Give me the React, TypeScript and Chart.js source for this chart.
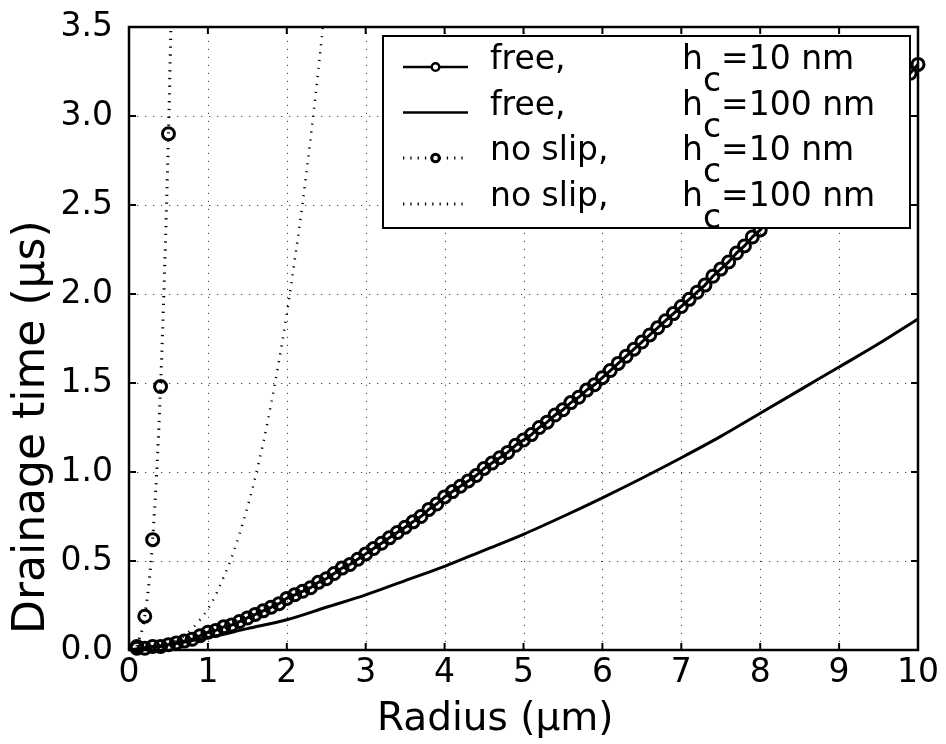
import React, { useEffect, useRef } from "react";
import { Chart, registerables } from "chart.js";

Chart.register(...registerables);

const FONT = "'DejaVu Sans', sans-serif";

const xTicks = [0, 1, 2, 3, 4, 5, 6, 7, 8, 9, 10];
const yTicks = [0, 0.5, 1, 1.5, 2, 2.5, 3, 3.5];

const xTitle = "Radius (\u00b5m)";
const yTitle = "Drainage time (\u00b5s)";

// free surface, h_c = 10 nm (markers every 0.1 µm)
const freeR10 = [
  0.1, 0.2, 0.3, 0.4, 0.5, 0.6, 0.7, 0.8, 0.9, 1.0,
  1.1, 1.2, 1.3, 1.4, 1.5, 1.6, 1.7, 1.8, 1.9, 2.0,
  2.1, 2.2, 2.3, 2.4, 2.5, 2.6, 2.7, 2.8, 2.9, 3.0,
  3.1, 3.2, 3.3, 3.4, 3.5, 3.6, 3.7, 3.8, 3.9, 4.0,
  4.1, 4.2, 4.3, 4.4, 4.5, 4.6, 4.7, 4.8, 4.9, 5.0,
  5.1, 5.2, 5.3, 5.4, 5.5, 5.6, 5.7, 5.8, 5.9, 6.0,
  6.1, 6.2, 6.3, 6.4, 6.5, 6.6, 6.7, 6.8, 6.9, 7.0,
  7.1, 7.2, 7.3, 7.4, 7.5, 7.6, 7.7, 7.8, 7.9, 8.0,
  8.1, 8.2, 8.3, 8.4, 8.5, 8.6, 8.7, 8.8, 8.9, 9.0,
  9.1, 9.2, 9.3, 9.4, 9.5, 9.6, 9.7, 9.8, 9.9, 10.0,
];
const freeT10 = [
  0.01, 0.01, 0.02, 0.02, 0.03, 0.04, 0.05, 0.06, 0.08, 0.10,
  0.11, 0.13, 0.14, 0.16, 0.18, 0.20, 0.22, 0.24, 0.26, 0.29,
  0.31, 0.33, 0.35, 0.38, 0.40, 0.43, 0.46, 0.48, 0.51, 0.54,
  0.57, 0.60, 0.63, 0.66, 0.69, 0.72, 0.75, 0.79, 0.82, 0.86,
  0.89, 0.92, 0.95, 0.98, 1.02, 1.05, 1.08, 1.11, 1.15, 1.18,
  1.21, 1.25, 1.28, 1.32, 1.35, 1.39, 1.42, 1.46, 1.49, 1.53,
  1.57, 1.61, 1.65, 1.69, 1.73, 1.77, 1.81, 1.85, 1.89, 1.93,
  1.97, 2.01, 2.05, 2.10, 2.14, 2.18, 2.23, 2.27, 2.32, 2.36,
  2.41, 2.45, 2.50, 2.54, 2.59, 2.63, 2.68, 2.73, 2.77, 2.82,
  2.87, 2.91, 2.96, 3.01, 3.05, 3.10, 3.15, 3.19, 3.24, 3.29,
];

// free surface, h_c = 100 nm
const freeR100 = [0, 0.5, 1, 1.5, 2, 2.5, 3, 3.5, 4, 4.5, 5, 5.5, 6, 6.5, 7, 7.5, 8, 8.5, 9, 9.5, 10];
const freeT100 = [0, 0.03, 0.07, 0.12, 0.17, 0.24, 0.31, 0.39, 0.47, 0.56, 0.65, 0.75, 0.855, 0.965, 1.08, 1.2, 1.33, 1.46, 1.59, 1.72, 1.86];

// no slip, h_c = 10 nm
const noSlipR10 = [0.1, 0.2, 0.3, 0.4, 0.5, 0.6];
const noSlipT10 = [0.02, 0.19, 0.62, 1.48, 2.9, 5.0];

// no slip, h_c = 100 nm
const noSlipR100 = [0, 0.1, 0.2, 0.3, 0.4, 0.5, 0.6, 0.7, 0.8, 0.9, 1.0, 1.1, 1.2, 1.3, 1.4, 1.5, 1.6, 1.7, 1.8, 1.9, 2.0, 2.1, 2.2, 2.3, 2.4, 2.5, 2.6];
const noSlipT100 = [0, 0, 0, 0.01, 0.02, 0.03, 0.05, 0.08, 0.12, 0.17, 0.23, 0.31, 0.41, 0.52, 0.65, 0.8, 0.97, 1.16, 1.38, 1.62, 1.89, 2.19, 2.51, 2.87, 3.26, 3.69, 4.15];

const legendNames = ["free,", "free,", "no slip,", "no slip,"];
const legendValues = ["=10 nm", "=100 nm", "=10 nm", "=100 nm"];

const toPts = (xs: number[], ys: number[]) => xs.map((x, i) => ({ x, y: ys[i] }));

const framePlugin = {
  id: "frameAndLegend",
  beforeDatasetsDraw(chart: any) {
    const { ctx, chartArea: a, scales } = chart;
    ctx.save();
    ctx.strokeStyle = "rgba(0,0,0,0.75)";
    ctx.lineWidth = 1;
    ctx.setLineDash([1.2, 6.8]);
    xTicks.forEach((v) => {
      const px = Math.round(scales.x.getPixelForValue(v)) + 0.5;
      if (px <= a.left + 2 || px >= a.right - 2) return;
      ctx.beginPath();
      ctx.moveTo(px, a.bottom);
      ctx.lineTo(px, a.top);
      ctx.stroke();
    });
    yTicks.forEach((v) => {
      const py = Math.round(scales.y.getPixelForValue(v)) + 0.5;
      if (py <= a.top + 2 || py >= a.bottom - 2) return;
      ctx.beginPath();
      ctx.moveTo(a.left, py);
      ctx.lineTo(a.right, py);
      ctx.stroke();
    });
    ctx.restore();
  },
  afterDatasetsDraw(chart: any) {
    const { ctx, chartArea: a, scales } = chart;
    ctx.save();
    ctx.setLineDash([]);
    ctx.strokeStyle = "#000";
    // inward ticks
    ctx.lineWidth = 2;
    const tl = 7;
    xTicks.forEach((v) => {
      const px = scales.x.getPixelForValue(v);
      ctx.beginPath();
      ctx.moveTo(px, a.bottom);
      ctx.lineTo(px, a.bottom - tl);
      ctx.moveTo(px, a.top);
      ctx.lineTo(px, a.top + tl);
      ctx.stroke();
    });
    yTicks.forEach((v) => {
      const py = scales.y.getPixelForValue(v);
      ctx.beginPath();
      ctx.moveTo(a.left, py);
      ctx.lineTo(a.left + tl, py);
      ctx.moveTo(a.right, py);
      ctx.lineTo(a.right - tl, py);
      ctx.stroke();
    });
    // frame
    ctx.lineWidth = 2.5;
    ctx.strokeRect(a.left, a.top, a.right - a.left, a.bottom - a.top);

    // legend
    const lx = 383, ly = 36, lw = 527, lh = 192;
    ctx.fillStyle = "#fff";
    ctx.fillRect(lx, ly, lw, lh);
    ctx.lineWidth = 2;
    ctx.strokeRect(lx, ly, lw, lh);
    const rows = [67, 112.5, 158, 204];
    const s0 = 403, s1 = 468, sm = 435.5;
    rows.forEach((ry, i) => {
      ctx.save();
      ctx.strokeStyle = "#000";
      if (i < 2) {
        ctx.setLineDash([]);
        ctx.lineWidth = 2.5;
      } else {
        ctx.setLineDash([1.3, 6]);
        ctx.lineWidth = 3;
      }
      ctx.beginPath();
      ctx.moveTo(s0, ry);
      ctx.lineTo(s1, ry);
      ctx.stroke();
      if (i === 0 || i === 2) {
        ctx.setLineDash([]);
        ctx.fillStyle = "#fff";
        ctx.lineWidth = i === 2 ? 3 : 2.5;
        ctx.beginPath();
        ctx.arc(sm, ry, 3.8, 0, Math.PI * 2);
        ctx.fill();
        ctx.stroke();
      }
      ctx.restore();

      ctx.fillStyle = "#000";
      ctx.font = `33px ${FONT}`;
      ctx.textAlign = "left";
      ctx.textBaseline = "alphabetic";
      const by = ry + 2;
      ctx.fillText(legendNames[i], 490, by);
      const hx = 682;
      ctx.fillText("h", hx, by);
      const wh = ctx.measureText("h").width;
      ctx.fillText("c", hx + wh, by + 22);
      const wc = ctx.measureText("c").width;
      ctx.fillText(legendValues[i], hx + wh + wc, by);
    });

    // axis titles
    ctx.fillStyle = "#000";
    ctx.textBaseline = "alphabetic";
    ctx.textAlign = "left";
    ctx.font = `39px ${FONT}`;
    ctx.fillText(xTitle, 377, 730);
    ctx.save();
    ctx.font = `44px ${FONT}`;
    ctx.translate(44, 634);
    ctx.rotate(-Math.PI / 2);
    ctx.fillText(yTitle, 0, 0);
    ctx.restore();
    ctx.restore();
  },
};

export default function App() {
  const ref = useRef<HTMLCanvasElement | null>(null);
  useEffect(() => {
    document.body.style.margin = "0";
    const canvas = ref.current;
    if (!canvas) return;
    const chart = new Chart(canvas, {
      type: "line",
      data: {
        datasets: [
          {
            label: "free, hc=10 nm",
            data: toPts(freeR10, freeT10),
            borderColor: "#000",
            borderWidth: 3,
            pointRadius: 6,
            pointBorderWidth: 3,
            pointBorderColor: "#000",
            pointBackgroundColor: "rgba(0,0,0,0)",
            clip: { left: 12, right: 12, top: 0, bottom: 12 },
          },
          {
            label: "free, hc=100 nm",
            data: toPts(freeR100, freeT100),
            borderColor: "#000",
            borderWidth: 3,
            pointRadius: 0,
            cubicInterpolationMode: "monotone",
          },
          {
            label: "no slip, hc=10 nm",
            data: toPts(noSlipR10, noSlipT10),
            borderColor: "#000",
            borderWidth: 3,
            borderDash: [1.3, 6.5],
            pointRadius: 6,
            pointBorderWidth: 3,
            pointBorderColor: "#000",
            pointBackgroundColor: "rgba(0,0,0,0)",
            cubicInterpolationMode: "monotone",
            clip: { left: 12, right: 12, top: 0, bottom: 12 },
          },
          {
            label: "no slip, hc=100 nm",
            data: toPts(noSlipR100, noSlipT100),
            borderColor: "#000",
            borderWidth: 2.5,
            borderDash: [1.2, 6.8],
            pointRadius: 0,
            cubicInterpolationMode: "monotone",
            clip: { left: 0, right: 0, top: 0, bottom: 0 },
          },
        ],
      },
      options: {
        animation: false,
        responsive: false,
        devicePixelRatio: 1,
        layout: { padding: { top: 27, right: 28, left: 0, bottom: 0 } },
        plugins: { legend: { display: false }, tooltip: { enabled: false } },
        scales: {
          x: {
            type: "linear",
            min: 0,
            max: 10,
            afterBuildTicks: (s: any) => {
              s.ticks = xTicks.map((v) => ({ value: v }));
            },
            afterFit: (s: any) => {
              s.height = 94;
              s.paddingLeft = 0;
              s.paddingRight = 0;
            },
            grid: { display: false, drawTicks: false },
            border: { display: false },
            ticks: {
              color: "#000",
              font: { family: FONT, size: 33 },
              padding: 4,
              maxRotation: 0,
              autoSkip: false,
              callback: (v: any) => String(v),
            },
          },
          y: {
            type: "linear",
            min: 0,
            max: 3.5,
            afterBuildTicks: (s: any) => {
              s.ticks = yTicks.map((v) => ({ value: v }));
            },
            afterFit: (s: any) => {
              s.width = 129;
              s.paddingTop = 0;
              s.paddingBottom = 0;
            },
            grid: { display: false, drawTicks: false },
            border: { display: false },
            ticks: {
              color: "#000",
              font: { family: FONT, size: 33 },
              padding: 16,
              autoSkip: false,
              callback: (v: any) => Number(v).toFixed(1),
            },
          },
        },
      },
      plugins: [framePlugin],
    } as any);
    return () => chart.destroy();
  }, []);
  return (
    <div style={{ width: 946, height: 744 }}>
      <canvas ref={ref} width={946} height={744} style={{ display: "block" }} />
    </div>
  );
}
